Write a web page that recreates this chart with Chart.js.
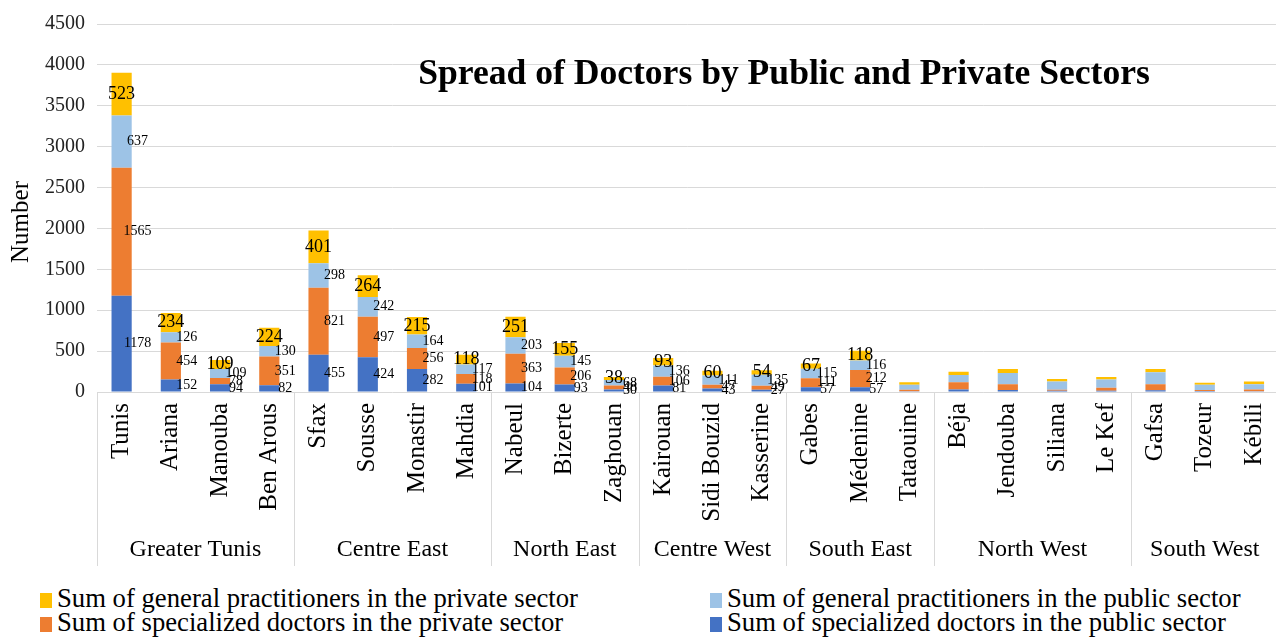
<!DOCTYPE html>
<html>
<head>
<meta charset="utf-8">
<title>Spread of Doctors by Public and Private Sectors</title>
<script src="https://cdn.jsdelivr.net/npm/chart.js@4.4.1/dist/chart.umd.min.js"></script>
<style>
  html, body { margin: 0; padding: 0; background: #fff; overflow: hidden; width: 1276px; height: 637px; }
  #wrap { position: absolute; left: 0; top: 0; width: 1295px; height: 572px; }
  #legend { position: absolute; left: 0; top: 586px; width: 1276px; height: 50px;
            font-family: "Liberation Serif", "Times New Roman", serif; font-size: 26.7px; color: #000; }
  .item { position: absolute; white-space: nowrap; line-height: 24px; height: 24px; }
  .sw { display: inline-block; width: 12px; height: 15px; margin-right: 5px; vertical-align: -1px; }
</style>
</head>
<body>
<div id="wrap"><canvas id="chart" width="1295" height="572"></canvas></div>
<div id="legend"></div>
<script>
// Governorates, in display order, and the regions they belong to
const categories = ['Tunis', 'Ariana', 'Manouba', 'Ben Arous',
  'Sfax', 'Sousse', 'Monastir', 'Mahdia',
  'Nabeul', 'Bizerte', 'Zaghouan',
  'Kairouan', 'Sidi Bouzid', 'Kasserine',
  'Gabes', 'Médenine', 'Tataouine',
  'Béja', 'Jendouba', 'Siliana', 'Le Kef',
  'Gafsa', 'Tozeur', 'Kébili'];
const regions = ['Greater Tunis', 'Centre East', 'North East', 'Centre West', 'South East', 'North West', 'South West'];
const regionSizes = [4, 4, 3, 3, 3, 4, 3];

// Doctors per governorate, by sector
const specializedPublic  = [1178, 152,  94,  82, 455, 424, 282, 101, 104,  93, 30,  81,  43,  27,  57,  57, 10, 32, 24, 16, 16, 20, 12,  8];
const specializedPrivate = [1565, 454,  78, 351, 821, 497, 256, 118, 363, 206, 48, 106,  47,  49, 111, 212, 18, 88, 72, 12, 36, 76, 12, 24];
const generalPublic      = [ 637, 126, 109, 130, 298, 242, 164, 117, 203, 145, 68, 136, 111, 135, 115, 116, 60, 88, 136, 100, 100, 144, 64, 64];
const generalPrivate     = [ 523, 234, 109, 224, 401, 264, 215, 118, 251, 155, 38,  93,  60,  54,  67, 118, 30, 41, 48, 31, 31, 40, 24, 32];

// Value axis ticks
const yTicks = [0, 500, 1000, 1500, 2000, 2500, 3000, 3500, 4000, 4500];

// Only the first governorates (up to Médenine) carry value labels
const labelledCount = 16;

const SERIF = '"Liberation Serif", "Times New Roman", serif';

const datasets = [
  { label: 'Sum of specialized doctors in the public sector', data: specializedPublic, backgroundColor: '#4472C4' },
  { label: 'Sum of specialized doctors in the private sector', data: specializedPrivate, backgroundColor: '#ED7D31' },
  { label: 'Sum of general practitioners in the public sector', data: generalPublic, backgroundColor: '#9DC3E6' },
  { label: 'Sum of general practitioners in the private sector', data: generalPrivate, backgroundColor: '#FFC000' }
].map(d => Object.assign(d, { stack: 'all', categoryPercentage: 1.0, barPercentage: 0.41, borderWidth: 0 }));

const decorations = {
  id: 'decorations',
  afterDatasetsDraw(chart) {
    const ctx = chart.ctx;
    const last = chart.data.datasets.length - 1;
    ctx.save();
    ctx.fillStyle = '#000';
    ctx.textBaseline = 'middle';
    ctx.textAlign = 'center';
    chart.data.datasets.forEach((ds, i) => {
      const meta = chart.getDatasetMeta(i);
      const top = i === last;
      ctx.font = (top ? '18px ' : '14px ') + SERIF;
      for (let j = 0; j < labelledCount; j++) {
        const bar = meta.data[j];
        const y = (bar.y + bar.base) / 2;
        const x = bar.x + (top ? 0 : 16);
        ctx.fillText(String(ds.data[j]), x, y);
      }
    });
    ctx.restore();
  },
  afterDraw(chart) {
    const ctx = chart.ctx;
    const xs = chart.scales.x;
    const area = chart.chartArea;
    const step = xs.getPixelForValue(1) - xs.getPixelForValue(0);
    const edge = k => xs.getPixelForValue(0) - step / 2 + k * step;

    ctx.save();
    // region separators and names under the governorate labels
    ctx.strokeStyle = '#D9D9D9';
    ctx.lineWidth = 1;
    ctx.fillStyle = '#000';
    ctx.font = '24px ' + SERIF;
    ctx.textAlign = 'center';
    ctx.textBaseline = 'middle';
    let k = 0;
    const bounds = [0];
    regionSizes.forEach(n => { k += n; bounds.push(k); });
    bounds.forEach(b => {
      const x = Math.round(edge(b)) + 0.5;
      ctx.beginPath();
      ctx.moveTo(x, area.bottom);
      ctx.lineTo(x, area.bottom + 174);
      ctx.stroke();
    });
    regions.forEach((name, r) => {
      const cx = (edge(bounds[r]) + edge(bounds[r + 1])) / 2;
      ctx.fillText(name, cx, area.bottom + 158);
    });

    // value axis title
    ctx.font = '25px ' + SERIF;
    ctx.translate(21, 222);
    ctx.rotate(-Math.PI / 2);
    ctx.fillText('Number', 0, 0);
    ctx.setTransform(1, 0, 0, 1, 0, 0);

    // chart title inside the plot
    ctx.font = 'bold 35.6px ' + SERIF;
    ctx.fillText('Spread of Doctors by Public and Private Sectors', 784, 75);
    ctx.restore();
  }
};

const chart = new Chart(document.getElementById('chart'), {
  type: 'bar',
  data: { labels: categories, datasets },
  options: {
    responsive: false,
    animation: false,
    devicePixelRatio: 1,
    layout: { padding: { top: 18, right: 0, bottom: 0, left: 0 } },
    plugins: {
      legend: { display: false },
      tooltip: { enabled: false },
      title: { display: false }
    },
    scales: {
      x: {
        stacked: true,
        grid: { display: false, drawTicks: false },
        border: { display: false },
        ticks: {
          autoSkip: false,
          minRotation: 90,
          maxRotation: 90,
          padding: 11,
          color: '#000',
          font: { family: SERIF, size: 25 }
        },
        afterFit(scale) { scale.height = 180; }
      },
      y: {
        stacked: true,
        min: 0,
        max: yTicks[yTicks.length - 1],
        afterBuildTicks(scale) { scale.ticks = yTicks.map(v => ({ value: v })); },
        grid: { color: '#D9D9D9', lineWidth: 1, drawTicks: false },
        border: { display: false },
        ticks: {
          padding: 12,
          color: '#222',
          font: { family: SERIF, size: 20 },
          callback: v => String(v)
        },
        afterFit(scale) { scale.width = 97; }
      }
    }
  },
  plugins: [decorations]
});

// Legend: two columns, listing the stack from top to bottom
const legendEl = document.getElementById('legend');
const order = datasets.slice().reverse();
order.forEach((ds, i) => {
  const item = document.createElement('div');
  item.className = 'item';
  item.style.left = (i % 2 === 0 ? 40 : 710) + 'px';
  item.style.top = (Math.floor(i / 2) * 24) + 'px';
  const sw = document.createElement('span');
  sw.className = 'sw';
  sw.style.background = ds.backgroundColor;
  item.appendChild(sw);
  item.appendChild(document.createTextNode(ds.label));
  legendEl.appendChild(item);
});
</script>
</body>
</html>
